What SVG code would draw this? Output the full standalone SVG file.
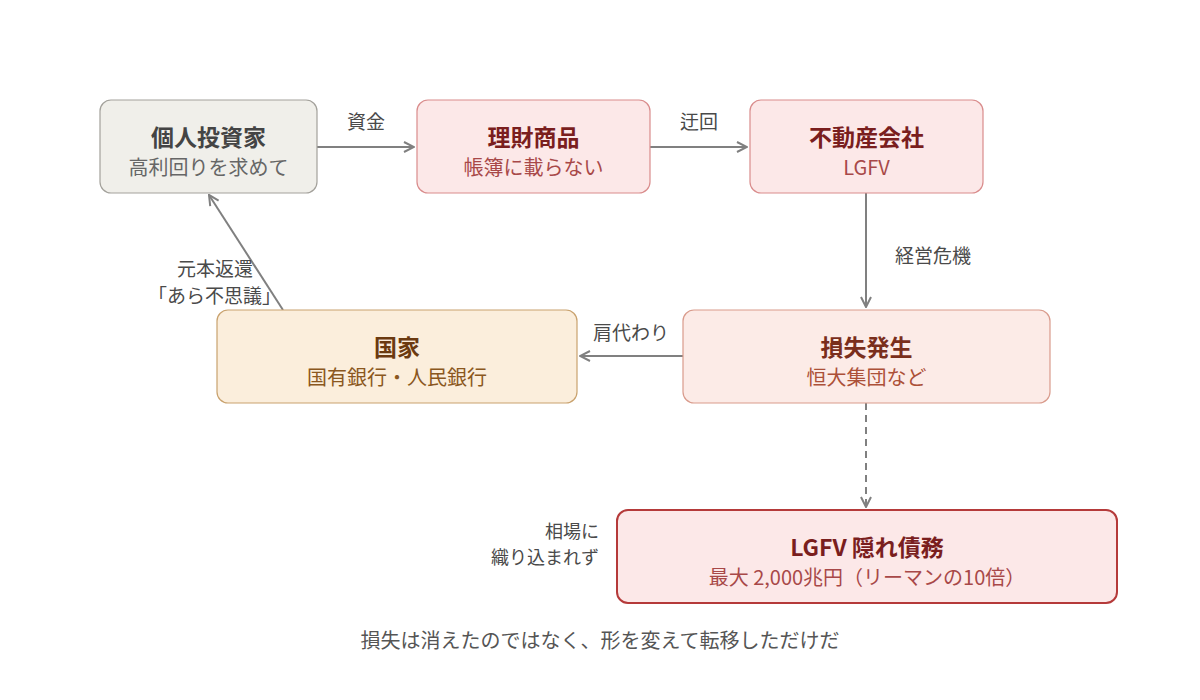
<svg xmlns="http://www.w3.org/2000/svg" width="1200" height="700" viewBox="0 0 1200 700">
<style>
text{font-family:"Noto Sans CJK JP","Noto Sans",sans-serif;text-anchor:middle}
.t{font-size:23px;font-weight:bold}
.s{font-size:20px}
.lbl{font-size:19px;fill:#4a4a4a}
.edge{stroke:#808080;stroke-width:2;fill:none}
</style>
<defs>
<marker id="ah" viewBox="0 0 12 12" refX="11" refY="6" markerWidth="12" markerHeight="12" markerUnits="userSpaceOnUse" orient="auto">
<path d="M1,1 L11,6 L1,11" fill="none" stroke="#808080" stroke-width="2"/>
</marker>
</defs>
<rect width="1200" height="700" fill="#ffffff"/>
<g id="connectors">
<line class="edge" x1="317" y1="147" x2="414" y2="147" marker-end="url(#ah)"/>
<line class="edge" x1="650" y1="147" x2="747" y2="147" marker-end="url(#ah)"/>
<line class="edge" x1="866" y1="193" x2="866" y2="307" marker-end="url(#ah)"/>
<line class="edge" x1="683" y1="356" x2="580" y2="356" marker-end="url(#ah)"/>
<line class="edge" x1="283" y1="310" x2="209" y2="195" marker-end="url(#ah)"/>
<line class="edge" x1="866" y1="403" x2="866" y2="507" stroke-dasharray="7,5" marker-end="url(#ah)"/>
<text class="lbl" x="366" y="129">資金</text>
<text class="lbl" x="699" y="129">迂回</text>
<text class="lbl" x="933" y="263">経営危機</text>
<text class="lbl" x="631" y="340">肩代わり</text>
<text class="lbl" x="253" y="276" style="text-anchor:end">元本返還</text>
<text class="lbl" x="281" y="303" style="text-anchor:end">「あら不思議」</text>
<text class="lbl" x="599" y="538" style="text-anchor:end;font-size:18px">相場に</text>
<text class="lbl" x="599" y="564" style="text-anchor:end;font-size:18px">織り込まれず</text>
</g>
<g id="node-investor">
<rect x="100" y="100" width="217" height="93" rx="11" fill="#f0efea" stroke="#a3a19b" stroke-width="1.2"/>
<text class="t" x="208.5" y="146" fill="#444444">個人投資家</text>
<text class="s" x="208.5" y="175" fill="#666666">高利回りを求めて</text>
</g>
<g id="node-wmp">
<rect x="417" y="100" width="233" height="93" rx="11" fill="#fce8e8" stroke="#d98c8c" stroke-width="1.2"/>
<text class="t" x="533.5" y="146" fill="#7a1e1e">理財商品</text>
<text class="s" x="533.5" y="175" fill="#a84848">帳簿に載らない</text>
</g>
<g id="node-realestate">
<rect x="750" y="100" width="233" height="93" rx="11" fill="#fce8e8" stroke="#d98c8c" stroke-width="1.2"/>
<text class="t" x="866.5" y="146" fill="#7a1e1e">不動産会社</text>
<text class="s" x="866.5" y="175" fill="#a84848">LGFV</text>
</g>
<g id="node-loss">
<rect x="683" y="310" width="367" height="93" rx="11" fill="#fcebe7" stroke="#d99b8c" stroke-width="1.2"/>
<text class="t" x="866.5" y="356" fill="#7a2e1c">損失発生</text>
<text class="s" x="866.5" y="385" fill="#ac5038">恒大集団など</text>
</g>
<g id="node-state">
<rect x="217" y="310" width="360" height="93" rx="11" fill="#fbeedc" stroke="#c9a26e" stroke-width="1.2"/>
<text class="t" x="397" y="356" fill="#6b3a10">国家</text>
<text class="s" x="397" y="385" fill="#8a5720">国有銀行・人民銀行</text>
</g>
<g id="node-lgfv">
<rect x="617" y="510" width="500" height="93" rx="11" fill="#fce8e8" stroke="#b53a3a" stroke-width="2"/>
<text class="t" x="867" y="556" fill="#7a1e1e">LGFV 隠れ債務</text>
<text class="s" x="867" y="585" fill="#a84848">最大 2,000兆円（リーマンの10倍）</text>
</g>
<text x="600" y="648" style="font-size:20px" fill="#555555">損失は消えたのではなく、形を変えて転移しただけだ</text>
</svg>
